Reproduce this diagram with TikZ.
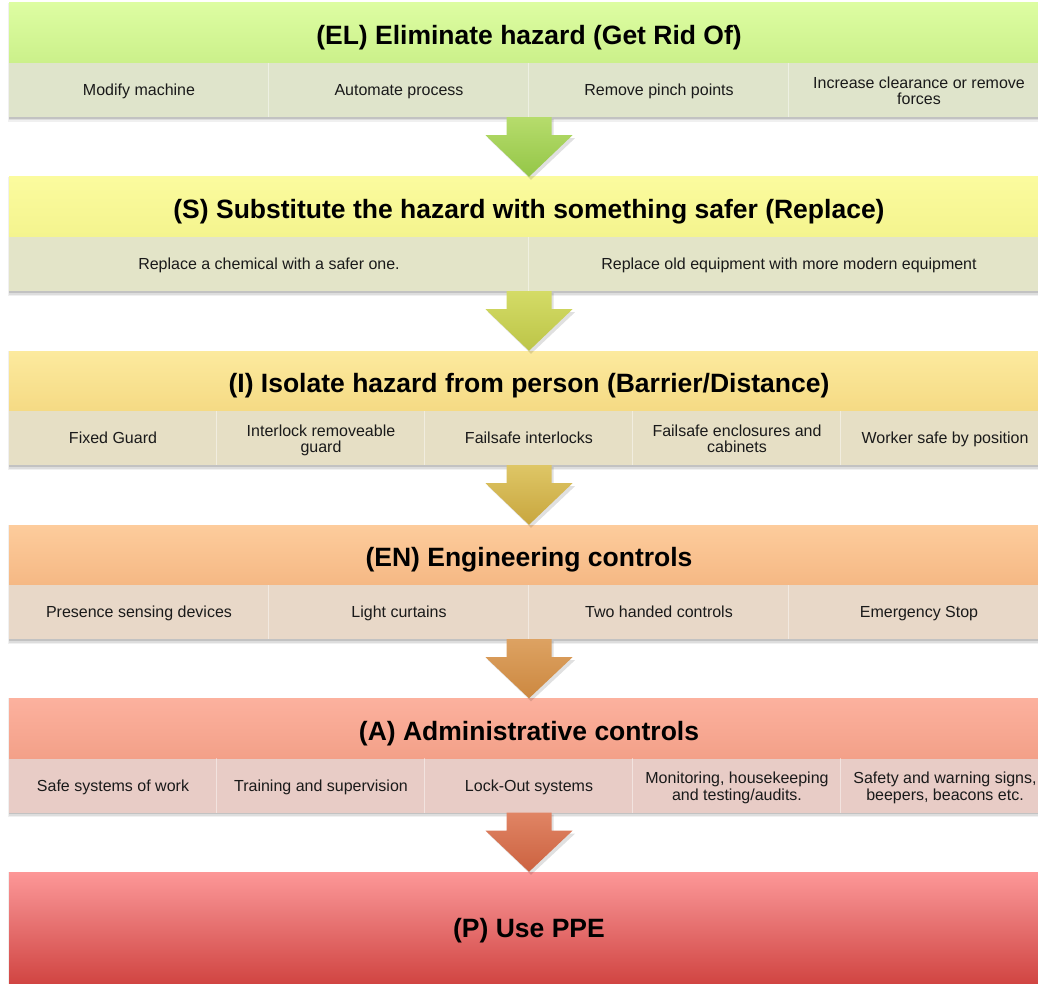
\documentclass[tikz,border=0pt]{standalone}
\usepackage{fontspec}
\setmainfont{Liberation Sans}
\usetikzlibrary{calc}
\definecolor{hAt}{HTML}{DDFDA2}\definecolor{hAb}{HTML}{CBF08A}\definecolor{sA}{HTML}{DFE4CB}
\definecolor{hBt}{HTML}{FBFB9E}\definecolor{hBb}{HTML}{F4F48E}\definecolor{sB}{HTML}{E3E4C8}
\definecolor{hCt}{HTML}{FCEA9E}\definecolor{hCb}{HTML}{F5DA84}\definecolor{sC}{HTML}{E6DFC5}
\definecolor{hDt}{HTML}{FDCC9C}\definecolor{hDb}{HTML}{F5B884}\definecolor{sD}{HTML}{E8D8C8}
\definecolor{hEt}{HTML}{FCB19E}\definecolor{hEb}{HTML}{F3A088}\definecolor{sE}{HTML}{E8CCC6}
\definecolor{pTop}{HTML}{FD9797}\definecolor{pMid}{HTML}{EE8080}\definecolor{pBot}{HTML}{CF413E}
\definecolor{aAt}{HTML}{B6DC6C}\definecolor{aAb}{HTML}{94C647}
\definecolor{aBt}{HTML}{D4DB66}\definecolor{aBb}{HTML}{BCC548}
\definecolor{aCt}{HTML}{DEC666}\definecolor{aCb}{HTML}{C8A63E}
\definecolor{aDt}{HTML}{DDA262}\definecolor{aDb}{HTML}{CC8840}
\definecolor{aEt}{HTML}{E08464}\definecolor{aEb}{HTML}{CC6240}
\definecolor{txt}{HTML}{1A1A1A}
\newcommand\blockarrow[4]{%
  \fill[black,opacity=0.12] ($(#1.south)+(-20.5,2)$) -- ($(#1.south)+(24.5,2)$) -- ($(#1.south)+(24.5,21)$) -- ($(#1.south)+(46,21)$) -- ($(#2.north)+(2,3)$) -- ($(#1.south)+(-41,21)$) -- ($(#1.south)+(-20.5,21)$) -- cycle;
  \shade[top color=#3, bottom color=#4] ($(#1.south)+(-22.5,0)$) -- ($(#1.south)+(22.5,0)$) -- ($(#1.south)+(22.5,18)$) -- ($(#1.south)+(43.5,18)$) -- (#2.north) -- ($(#1.south)+(-43.5,18)$) -- ($(#1.south)+(-22.5,18)$) -- cycle;}
\newcommand\rowshadow[2]{%
  \fill[black,opacity=0.06] (8,#1) rectangle (1049,#2+5);
  \fill[black,opacity=0.08] (8.5,#1+1) rectangle (1049,#2+3.5);
  \fill[black,opacity=0.12] (9,#1+1) rectangle (1049,#2+2);}
\begin{document}
\begin{tikzpicture}[x=1pt,y=-1pt,
  hdr/.style={rectangle, minimum width=1040pt, minimum height=60pt, inner sep=0pt, text=black,
    text height=23pt, text depth=0pt,
    font=\fontsize{26.5}{30}\selectfont\bfseries},
  subbg/.style={rectangle, minimum width=1040pt, minimum height=54pt, inner sep=0pt, fill=#1},
  cell/.style={align=center, text=txt, inner sep=0pt, font=\fontsize{16}{16.3}\selectfont,
    execute at begin node={\rule{0pt}{14.5pt}}, execute at end node={\rule[-3.5pt]{0pt}{3.5pt}}},
  twoline/.style={yshift=-2.5pt},
  sep/.style={draw=white, opacity=0.45, line width=1.2pt}]
\useasboundingbox (0,0) rectangle (1038,984);
\fill[white] (0,0) rectangle (1038,984);
% shadows
\rowshadow{3}{117}
\rowshadow{177}{291}
\rowshadow{351}{465}
\rowshadow{525}{639}
\rowshadow{698}{812}
\rowshadow{872}{990}
% Row 1
\node[hdr, top color=hAt, bottom color=hAb] (h1) at (529,33) {(EL) Eliminate hazard (Get Rid Of)};
\node[subbg=sA] (s1) at (529,90) {};
\draw[sep] ($(s1.north west)+(260,0)$) -- ($(s1.south west)+(260,0)$);
\draw[sep] ($(s1.north west)+(520,0)$) -- ($(s1.south west)+(520,0)$);
\draw[sep] ($(s1.north west)+(780,0)$) -- ($(s1.south west)+(780,0)$);
\node[cell] (c11) at (139,90) {Modify machine};
\node[cell] (c12) at (399,90) {Automate process};
\node[cell] (c13) at (659,90) {Remove pinch points};
\node[cell, twoline] (c14) at (919,90) {Increase clearance or remove\\forces};
% Row 2
\node[hdr, top color=hBt, bottom color=hBb] (h2) at (529,207) {(S) Substitute the hazard with something safer (Replace)};
\node[subbg=sB] (s2) at (529,264) {};
\draw[sep] ($(s2.north west)+(520,0)$) -- ($(s2.south west)+(520,0)$);
\node[cell] (c21) at (269,264) {Replace a chemical with a safer one.};
\node[cell] (c22) at (789,264) {Replace old equipment with more modern equipment};
% Row 3
\node[hdr, top color=hCt, bottom color=hCb] (h3) at (529,381) {(I) Isolate hazard from person (Barrier/Distance)};
\node[subbg=sC] (s3) at (529,438) {};
\foreach \k in {208,416,624,832}{\draw[sep] ($(s3.north west)+(\k,0)$) -- ($(s3.south west)+(\k,0)$);}
\node[cell] (c31) at (113,438) {Fixed Guard};
\node[cell, twoline] (c32) at (321,438) {Interlock removeable\\guard};
\node[cell] (c33) at (529,438) {Failsafe interlocks};
\node[cell, twoline] (c34) at (737,438) {Failsafe enclosures and\\cabinets};
\node[cell] (c35) at (945,438) {Worker safe by position};
% Row 4
\node[hdr, top color=hDt, bottom color=hDb] (h4) at (529,555) {(EN) Engineering controls};
\node[subbg=sD] (s4) at (529,612) {};
\draw[sep] ($(s4.north west)+(260,0)$) -- ($(s4.south west)+(260,0)$);
\draw[sep] ($(s4.north west)+(520,0)$) -- ($(s4.south west)+(520,0)$);
\draw[sep] ($(s4.north west)+(780,0)$) -- ($(s4.south west)+(780,0)$);
\node[cell] (c41) at (139,612) {Presence sensing devices};
\node[cell] (c42) at (399,612) {Light curtains};
\node[cell] (c43) at (659,612) {Two handed controls};
\node[cell] (c44) at (919,612) {Emergency Stop};
% Row 5
\node[hdr, top color=hEt, bottom color=hEb] (h5) at (529,728.5) {(A) Administrative controls};
\node[subbg=sE] (s5) at (529,785.5) {};
\foreach \k in {208,416,624,832}{\draw[sep] ($(s5.north west)+(\k,0)$) -- ($(s5.south west)+(\k,0)$);}
\node[cell] (c51) at (113,785.5) {Safe systems of work};
\node[cell] (c52) at (321,785.5) {Training and supervision};
\node[cell] (c53) at (529,785.5) {Lock-Out systems};
\node[cell, twoline] (c54) at (737,785.5) {Monitoring, housekeeping\\and testing/audits.};
\node[cell, twoline] (c55) at (945,785.5) {Safety and warning signs,\\beepers, beacons etc.};
% PPE
\shade[top color=pTop, bottom color=pMid] (9,872) rectangle (1049,905);
\node[hdr, minimum height=84pt, top color=pMid, bottom color=pBot, anchor=north] (h6bg) at (529,904.5) {};
\node[hdr, minimum height=116pt, fill=none, text height=15.4pt] (h6) at (529,930) {(P) Use PPE};
% arrows
\blockarrow{s1}{h2}{aAt}{aAb}
\blockarrow{s2}{h3}{aBt}{aBb}
\blockarrow{s3}{h4}{aCt}{aCb}
\blockarrow{s4}{h5}{aDt}{aDb}
\blockarrow{s5}{h6}{aEt}{aEb}
\end{tikzpicture}
\end{document}
